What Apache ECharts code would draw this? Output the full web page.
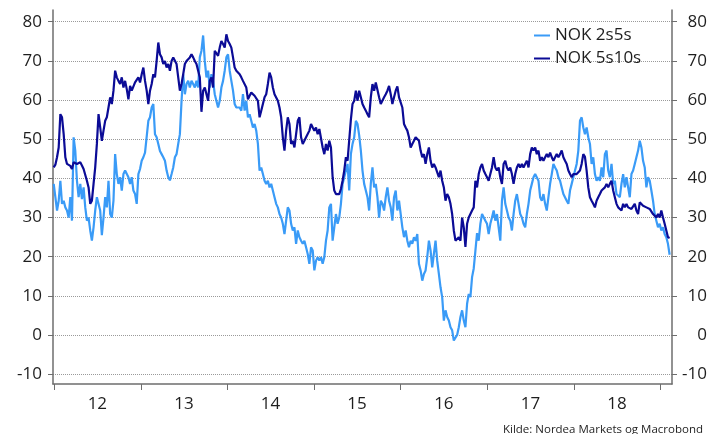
<!DOCTYPE html>
<html><head><meta charset="utf-8">
<script src="https://cdn.jsdelivr.net/npm/echarts/dist/echarts.min.js"></script>
<style>html,body{margin:0;padding:0;background:#fff}#c{width:711px;height:434px}</style>
</head><body><div id="c"></div>
<script>
const seriesNames = ['NOK 2s5s', 'NOK 5s10s'];
const firstWeek = [2011, 11, 30]; // weekly observations from 30 Dec 2011
const nok2s5s = [
38.6,35.2,31.8,34.3,39.4,33.5,34.3,32.6,31.8,30,35.2,29.2,50.5,47,39.4,35.2,38.6,34.7,37.7,32.6,
29.2,30,26.7,24.1,27.5,31.8,35.2,35.2,31.8,25.5,30,35.2,32.6,39.4,30.9,30,34.3,46.2,41.1,38.6,
40.3,36.9,41.1,42,41.5,40.3,38.6,40.3,36.9,36,33.5,41.1,42.4,44.5,45.4,46.6,47,54.7,55.6,58.1,
59,51.3,50.5,48.8,47,46.2,45.4,44.5,42,40.3,39.5,41.1,42.8,45.4,46.2,48.8,51.3,59.8,66.6,61.5,
64.1,64.9,63.2,64.9,64.1,63.2,64.9,63.2,70.9,72.6,76.5,70,65.8,67.5,63.2,66.6,64.9,61.5,61.5,58.1,
59.8,63.2,64.9,67.5,70.9,71.7,67.5,64.9,62.4,59,58.1,58.1,58.1,57.3,61.5,57.3,59.8,55.6,56.4,54.7,
53,53.9,
52.2,48.8,42,42.8,41.1,39.4,38.6,39.4,37.7,38.6,36.9,35.2,33.5,32.6,30.9,30,28.4,25.8,29.2,32.6,
31.8,28.4,26.7,27.5,23.3,26.7,25,24.1,23.3,24.1,22.4,20.7,18.2,22.4,21.6,16.5,19,19.9,19,19.9,
18.2,19.9,24.1,26.7,32.6,33.5,24.1,27.5,30.9,28.4,30,33.5,38.6,40.3,42,43.7,36.9,46.2,48.8,50.5,
54.7,53.9,
51,47.1,42,38.6,36.9,35.2,31.8,38.6,42.8,37.7,38.6,35.2,30,34.3,33.5,31.8,35.2,37.7,34.3,32.6,
29.2,35.2,36.9,31.8,34.3,34.3,27.5,25,26.7,24.1,22.4,24.1,23.3,25,24.1,25.8,18.2,16.5,13.9,15.6,
16.5,19.9,24.1,21.6,17.3,20.7,24.1,19,15.6,12.2,9.7,3.7,6.3,4.6,3.7,2,1.2,-1.4,-1.4,0,
2,4.6,
6.3,3.7,2,8,10.5,9.7,14.8,17,21.5,26,24.1,28.4,30.9,30.9,29.2,28.4,25.8,28.4,30,31.8,
29.2,30.9,27.5,24.1,34.3,37.7,33.5,31.8,30,29.2,26.7,30.9,34.3,36,33.5,30.9,30,28.4,27.5,30.9,
33.5,36.9,38.6,40.3,41.1,41.5,39.4,35.2,34.3,36,33.5,31.8,35.2,38.6,41.1,43.7,42.8,42,40.3,39.4,
37.7,36,
36,34.3,33.5,36.9,38.6,40.3,42,43.7,47.1,54.7,55.6,53,51.3,53,50.5,48.8,43.7,45.4,41.1,39.4,
40.3,39.4,42.8,40.3,46.2,47.1,42,40.3,43.7,38.6,39.4,36,36,35.2,38.6,41.1,37.7,40.3,37.7,35.2,
41.1,42,43.7,45.4,47.1,49.6,47.9,44.5,42.8,37.7,40.3,39.4,36.9,34.3,30.9,29.2,27.5,28.4,26.7,27.5,
25.8,25,23.3,20.5
];
const nok5s10s = [
42.8,43.5,45.4,47.9,56.4,55.6,51.3,45.4,43.7,43.5,43.2,42.4,44.1,43.9,43.7,44,44.1,43.3,42.4,42,
39.4,37.7,33.5,34.3,38.6,42.8,48.8,56.4,53,49.6,52.2,54.7,55.6,58.1,60.7,59,62.4,67.5,65.8,64.9,
64.1,65.8,63.2,64.9,62.8,60.2,63.6,62.4,62.8,64.5,64.1,65.8,64.5,66.6,68.3,64.9,62.4,59,62.4,64.1,
66.6,65.8,70,74.7,71.7,70.9,69.2,70,68.3,69.2,67.5,70,70.9,70.9,69.2,65.8,62.4,64.1,66.6,69.2,
70,70.4,70.9,71.7,70.9,70,69.2,67.5,65.8,57,62.4,63.2,63.2,59.8,64.9,65.8,63.2,72.6,72.1,71.3,
73.4,75.1,74.3,73.4,76.8,75.1,74.3,73.4,70.9,68.3,67.5,67,66.6,65.8,64.9,64.5,63.2,60.2,61.1,61.9,
61.9,61.1,
60.7,59.8,55.6,57.3,57.7,60.7,61.5,64.1,67,65.8,63.2,61.5,61.5,59.8,58.1,55.6,50.5,47.1,52.2,55.6,
53.9,48.8,49.6,47.9,51.3,54.7,55.6,50.5,48.8,49.6,50.5,50,52.2,53.9,53,52.2,53,51.3,52.6,53,
47.9,46.2,48.8,47.1,49.6,47.9,40.3,36.9,36,36.4,36,37.3,39.4,42,45.4,44.5,44.5,55,59,59.8,
62.4,59.8,
62.4,60.7,59,58.1,57.3,56.4,55.6,60.7,64.1,62.4,64.5,64.1,60.7,59,59.4,60.7,61.5,62.4,63.6,61.5,
59,60.7,62.4,63.5,60.7,60.7,58.1,53.9,53,52.2,50.5,47.9,48.8,49.6,50.5,50.9,49.6,47.1,45.4,46.2,
43.7,46.2,47.9,44.5,42.8,43.7,42.8,42.8,40.3,42,39.4,37.7,34.3,36,35.2,33.5,30.9,26.7,24.1,24.1,
25,24.1,
30,27.5,22.5,28.4,30,30.9,31.8,32.6,39.4,37.7,41.1,42.8,43.7,42,41.1,40.3,39.4,41.1,42.8,45.4,
42.8,42,42.8,40.3,38.6,43.7,44.5,42.8,42,42.8,41.1,38.6,41.1,42.8,43.7,42.8,43.7,42.8,43.7,44.5,
42.8,46.2,47.9,47.1,47.9,46.2,47.1,44.5,45.4,44.5,45.4,46.2,45.4,46.6,45.4,44.5,45.4,46.2,45.4,46.2,
47.1,45.4,
44.5,43.7,42,41.1,40.3,41.1,40.7,41.1,41.1,42,43.7,46.2,45.5,42,37.7,35.2,34.3,33.5,32.6,34.3,
35.2,36,36.9,36.4,37.7,38.6,37.7,38.6,39.4,36.9,35.2,33.5,32.6,32.6,31.8,33.5,32.6,33.5,32.6,33,
32.2,32.6,33.5,31.8,30.9,33.9,33.5,33,33.5,32.6,32.6,32.2,31.8,30.9,30.5,30,30.9,30,31.8,30,
28.4,26.7,25,24.8
];
const yTicks = [-10, 0, 10, 20, 30, 40, 50, 60, 70, 80];
const yearTicks = [2012, 2013, 2014, 2015, 2016, 2017, 2018, 2019];
const yearLabels = [2012, 2013, 2014, 2015, 2016, 2017, 2018];
const sourceText = 'Kilde: Nordea Markets og Macrobond';

const DAY = 86400000;
const t0 = Date.UTC(firstWeek[0], firstWeek[1], firstWeek[2]);
const toPairs = arr => arr.map((v, i) => [t0 + i * 7 * DAY, v]);

const FONT = '"Open Sans", "Noto Sans", sans-serif';
const txt = '#1e1e1e';
const axisCol = '#6e6e6e';
const LIGHT = '#3a9bf7';
const DARK = '#0b0b96';

function yAxisCfg(pos) {
  return {
    type: 'value', position: pos, min: -12.5, max: 83,
    axisLine: { show: true, onZero: false, lineStyle: { color: axisCol, width: 1.5 } },
    axisTick: { show: true, customValues: yTicks, length: 5, lineStyle: { color: axisCol } },
    axisLabel: {
      customValues: yTicks, fontSize: 17, color: txt, fontFamily: FONT,
      margin: pos === 'left' ? 11 : 35, align: 'right'
    },
    splitLine: { show: pos === 'left', lineStyle: { color: '#9a9a9a', type: [1, 1], width: 1 } }
  };
}

const chart = echarts.init(document.getElementById('c'), null, { renderer: 'canvas' });
chart.setOption({
  animation: false,
  backgroundColor: '#fff',
  textStyle: { fontFamily: FONT },
  grid: { left: 53, right: 39, top: 10, bottom: 50, containLabel: false },
  title: {
    text: sourceText, right: 3, top: 424, padding: [0, 5, 0, 5],
    textStyle: { fontSize: 11.5, fontWeight: 'normal', color: txt, fontFamily: FONT }
  },
  legend: {
    orient: 'vertical', left: 534, top: 27, padding: 0,
    itemWidth: 16, itemHeight: 2, itemGap: 6,
    icon: 'rect',
    data: seriesNames,
    textStyle: { fontSize: 17, color: txt, fontFamily: FONT, lineHeight: 17 }
  },
  xAxis: {
    type: 'value',
    min: Date.UTC(2011, 11, 27), max: Date.UTC(2019, 1, 18),
    axisLine: { show: true, onZero: false, lineStyle: { color: axisCol, width: 1.5 } },
    axisTick: { show: true, customValues: yearTicks.map(y => Date.UTC(y, 0, 1)), length: 6, lineStyle: { color: axisCol } },
    axisLabel: {
      customValues: yearLabels.map(y => Date.UTC(y, 6, 1)),
      formatter: v => String(new Date(v).getUTCFullYear()).slice(2),
      fontSize: 17, color: txt, fontFamily: FONT, margin: 12
    },
    splitLine: { show: false }
  },
  yAxis: [yAxisCfg('left'), yAxisCfg('right')],
  series: [
    { name: seriesNames[0], type: 'line', symbol: 'none', data: toPairs(nok2s5s),
      lineStyle: { width: 2.2, color: LIGHT }, itemStyle: { color: LIGHT } },
    { name: seriesNames[1], type: 'line', symbol: 'none', data: toPairs(nok5s10s),
      lineStyle: { width: 2.2, color: DARK }, itemStyle: { color: DARK } }
  ]
});
</script></body></html>
